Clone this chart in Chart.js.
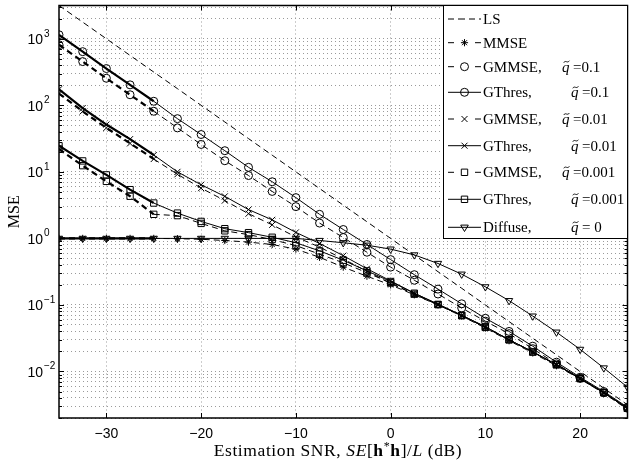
<!DOCTYPE html>
<html><head><meta charset="utf-8">
<script src="https://cdn.jsdelivr.net/npm/chart.js@4.4.0/dist/chart.umd.min.js"></script>
<style>html,body{margin:0;padding:0;background:#fff;}</style>
</head><body>
<canvas id="c" width="633" height="466"></canvas>
<script>
// ---- data ----
const snr = [-35,-32.5,-30,-27.5,-25,-22.5,-20,-17.5,-15,-12.5,-10,-7.5,-5,-2.5,0,2.5,5,7.5,10,12.5,15,17.5,20,22.5,25];
const ls = [3162,1778,1000,562,316,178,100,56.2,31.6,17.8,10,5.62,3.16,1.78,1.0,0.562,0.316,0.178,0.1,0.0562,0.0316,0.0178,0.01,0.00562,0.00316];
const mmse = [1.0,1.0,1.0,1.0,1.0,0.99,0.97,0.93,0.88,0.81,0.69,0.52,0.37,0.27,0.2,0.142,0.1,0.068,0.045,0.029,0.019,0.0122,0.0077,0.0047,0.0027];
const gmmse1 = [813,454,255,144,81.4,45.8,25.8,14.7,8.8,5.08,3.0,1.7,1.03,0.62,0.37,0.235,0.146,0.090,0.057,0.037,0.022,0.013,0.0079,0.0048,0.0028];
const gthres1 = [1148,640,357,203,115,63,36.4,20.8,11.7,7.1,4.1,2.3,1.36,0.81,0.48,0.285,0.173,0.104,0.063,0.040,0.024,0.0138,0.0082,0.0050,0.0029];
const gmmse01 = [150,81,45.8,26.8,15.6,9.2,5.7,3.7,2.35,1.6,1.05,0.74,0.49,0.32,0.21,0.145,0.101,0.069,0.046,0.030,0.0196,0.0126,0.0078,0.0048,0.0028];
const gthres01 = [174,91,51.4,31,17.9,10,6.4,4.28,2.71,1.9,1.23,0.84,0.55,0.35,0.23,0.15,0.103,0.07,0.047,0.030,0.0198,0.0127,0.0079,0.0048,0.0028];
const gmmse001 = [22.0,12.4,7.2,4.3,2.3,2.2,1.68,1.3,1.14,0.96,0.78,0.58,0.43,0.305,0.215,0.145,0.101,0.069,0.046,0.030,0.0196,0.0126,0.0078,0.0048,0.0028];
const gthres001 = [24.7,14.6,9.0,5.4,3.4,2.4,1.8,1.4,1.22,1.04,0.86,0.65,0.47,0.325,0.225,0.15,0.102,0.07,0.047,0.030,0.0197,0.0127,0.0079,0.0048,0.0028];
const diffuse = [1,1,1,1,1,1,1,1,1,1,1,0.93,0.86,0.79,0.69,0.565,0.42,0.29,0.187,0.116,0.068,0.039,0.0215,0.0113,0.0058];

const xTicks = [-30,-20,-10,0,10,20];
const yExps = [3,2,1,0,-1,-2];
const legendNames = ['LS','MMSE','GMMSE,','GThres,','GMMSE,','GThres,','GMMSE,','GThres,','Diffuse,'];
const legendQ = [null,null,'=0.1','=0.1','=0.01','=0.01','=0.001','=0.001','= 0'];

// ---- styles ----
const SERIF = '"Liberation Serif", "DejaVu Serif", serif';
const SANS = '"Liberation Sans", Arial, sans-serif';
const DASH = [6,4];

function mk(values, dashed, pstyle, rad, rot){
  return {
    data: snr.map((s,i)=>({x:s, y:values[i]})),
    borderColor:'#000', borderWidth:1, borderDash: dashed ? DASH : [],
    pointStyle: pstyle || false, pointRadius: pstyle ? rad : 0, pointRotation: rot||0,
    pointBorderColor:'#000', pointBackgroundColor:'rgba(0,0,0,0)', pointBorderWidth:1,
    pointHoverRadius: pstyle ? rad : 0,
    tension:0, fill:false,
    segment: { borderWidth: c => (pstyle && c.p0.parsed.x < -25) ? 2.2 : 1 }
  };
}
const legendStyles = [
  {dash:true, m:null},{dash:true, m:'star'},{dash:true,m:'circle'},{dash:false,m:'circle'},
  {dash:true,m:'crossRot'},{dash:false,m:'crossRot'},{dash:true,m:'rect'},{dash:false,m:'rect'},{dash:false,m:'tri'}
];

const datasets = [
  mk(ls, true, null, 0),
  mk(mmse, true, 'star', 3.6),
  mk(gmmse1, true, 'circle', 4),
  mk(gthres1, false, 'circle', 4),
  mk(gmmse01, true, 'crossRot', 4.3),
  mk(gthres01, false, 'crossRot', 4.3),
  mk(gmmse001, true, 'rect', 4.5),
  mk(gthres001, false, 'rect', 4.5),
  mk(diffuse, false, 'triangle', 4.2, 180)
];

function drawMarker(ctx, m, x, y){
  ctx.beginPath();
  if (m==='circle'){ ctx.arc(x,y,4,0,Math.PI*2); }
  else if (m==='rect'){ ctx.rect(x-3.2,y-3.2,6.4,6.4); }
  else if (m==='crossRot'){ const d=3; ctx.moveTo(x-d,y-d);ctx.lineTo(x+d,y+d);ctx.moveTo(x+d,y-d);ctx.lineTo(x-d,y+d); }
  else if (m==='star'){ const d=3.6, e=2.5; ctx.moveTo(x-d,y);ctx.lineTo(x+d,y);ctx.moveTo(x,y-d);ctx.lineTo(x,y+d);
    ctx.moveTo(x-e,y-e);ctx.lineTo(x+e,y+e);ctx.moveTo(x+e,y-e);ctx.lineTo(x-e,y+e); }
  else if (m==='tri'){ ctx.moveTo(x-3.8,y-2.2);ctx.lineTo(x+3.8,y-2.2);ctx.lineTo(x,y+4.2);ctx.closePath(); }
  ctx.stroke();
}

function drawQTilde(ctx, qx, ly, rest){
  ctx.font='italic 15px '+SERIF; ctx.textAlign='left'; ctx.textBaseline='alphabetic';
  const base = ly+5;
  ctx.fillText('q', qx, base);
  // tilde accent over the q
  const tx = qx+1.8, ty = ly-5;
  ctx.save(); ctx.lineWidth=0.9; ctx.setLineDash([]);
  ctx.beginPath();
  ctx.moveTo(tx, ty+1);
  ctx.bezierCurveTo(tx+1.6, ty-2.2, tx+3.6, ty+2.2, tx+5.6, ty-1);
  ctx.stroke(); ctx.restore();
  ctx.font='15px '+SERIF;
  ctx.fillText(rest, qx+11, base);
}

const deco = {
  id:'deco',
  afterDatasetsDraw(chart){
    const {ctx, chartArea:a, scales:{x, y}} = chart;
    ctx.save();
    ctx.strokeStyle='#000'; ctx.lineWidth=1; ctx.setLineDash([]);
    // inside tick marks
    ctx.beginPath();
    xTicks.forEach(v=>{
      const px = Math.round(x.getPixelForValue(v))+0.5;
      ctx.moveTo(px,a.bottom); ctx.lineTo(px,a.bottom-5);
      ctx.moveTo(px,a.top); ctx.lineTo(px,a.top+5);
    });
    for (let e=-3;e<=3;e++){
      for (let k=1;k<=9;k++){
        const v=k*Math.pow(10,e);
        if (v<y.min*0.999 || v>y.max*1.001) continue;
        const py = Math.round(y.getPixelForValue(v))+0.5;
        const len = k===1?5:3;
        ctx.moveTo(a.left,py); ctx.lineTo(a.left+len,py);
        ctx.moveTo(a.right,py); ctx.lineTo(a.right-len,py);
      }
    }
    ctx.stroke();
    // border
    ctx.lineWidth=1.5;
    ctx.strokeRect(a.left, a.top, a.right-a.left, a.bottom-a.top);

    // legend
    const bx0=443.5, by0=a.top, bx1=a.right, by1=238.5;
    ctx.fillStyle='#fff';
    ctx.fillRect(bx0,by0,bx1-bx0,by1-by0);
    ctx.lineWidth=1;
    ctx.strokeRect(bx0,by0,bx1-bx0,by1-by0);
    const rowsY=[19,42.7,66.7,92.3,119,145.7,172.3,199.3,227.3];
    const lx0=448, lx1=481, lxm=464.5;
    ctx.fillStyle='#000';
    legendNames.forEach((name,i)=>{
      const st=legendStyles[i], ly=rowsY[i];
      ctx.lineWidth=1;
      ctx.beginPath();
      if (!st.dash){ ctx.moveTo(lx0,ly); ctx.lineTo(lx1,ly); }
      else if (!st.m){ ctx.moveTo(lx0,ly);ctx.lineTo(lx0+6,ly);ctx.moveTo(lx0+10,ly);ctx.lineTo(lx0+17,ly);ctx.moveTo(lx0+21,ly);ctx.lineTo(lx0+27,ly); ctx.moveTo(lx0+31,ly);ctx.lineTo(lx1,ly); }
      else { ctx.moveTo(lx0,ly);ctx.lineTo(lx0+6,ly);ctx.moveTo(lx1-6,ly);ctx.lineTo(lx1,ly); }
      ctx.stroke();
      if (st.m) drawMarker(ctx, st.m, lxm, ly);
      ctx.font='15px '+SERIF; ctx.textAlign='left'; ctx.textBaseline='alphabetic';
      ctx.fillText(name, 483, ly+5);
      if (legendQ[i]){
        const qx = name==='GMMSE,' ? 562 : 571;
        drawQTilde(ctx, qx, ly, legendQ[i]);
      }
    });

    // y tick labels with superscripts
    ctx.fillStyle='#000';
    yExps.forEach(e=>{
      const py = y.getPixelForValue(Math.pow(10,e));
      ctx.font='14px '+SANS; ctx.textAlign='right'; ctx.textBaseline='middle';
      ctx.fillText('10', 43, py+1.5);
      ctx.font='10px '+SANS; ctx.textAlign='left'; ctx.textBaseline='alphabetic';
      ctx.fillText(e<0 ? '\u2212'+(-e) : String(e), 44, py-2);
    });

    // y title
    ctx.save();
    ctx.translate(15, (a.top+a.bottom)/2);
    ctx.rotate(-Math.PI/2);
    ctx.font='16px '+SERIF; ctx.textAlign='center'; ctx.textBaseline='middle';
    ctx.fillText('MSE', 0, 0);
    ctx.restore();

    // x title with mixed fonts
    const FS = 17.5;
    const parts = [
      ['Estimation SNR, ', FS+'px '+SERIF, 0],
      ['SE', 'italic '+FS+'px '+SERIF, 0],
      ['[', FS+'px '+SERIF, 0],
      ['h', 'bold '+FS+'px '+SERIF, 0],
      ['*', '12px '+SERIF, -6],
      ['h', 'bold '+FS+'px '+SERIF, 0],
      [']/', FS+'px '+SERIF, 0],
      ['L', 'italic '+FS+'px '+SERIF, 0],
      [' (dB)', FS+'px '+SERIF, 0]
    ];
    ctx.letterSpacing = '0.6px';
    let total=0;
    parts.forEach(p=>{ ctx.font=p[1]; total+=ctx.measureText(p[0]).width; });
    let tx = 338 - total/2;
    const ty = 456;
    ctx.textAlign='left'; ctx.textBaseline='alphabetic';
    parts.forEach(p=>{ ctx.font=p[1]; ctx.fillText(p[0], tx, ty+p[2]); tx+=ctx.measureText(p[0]).width; });
    ctx.letterSpacing = '0px';
    ctx.restore();
  }
};

new Chart(document.getElementById('c'), {
  type:'line',
  data:{ datasets },
  options:{
    responsive:false, animation:false, devicePixelRatio:1,
    layout:{ padding:{ top:3, right:1, left:0, bottom:0 } },
    plugins:{ legend:{display:false}, tooltip:{enabled:false} },
    scales:{
      x:{
        type:'linear', min:-35, max:25,
        afterBuildTicks: s => { s.ticks = xTicks.map(v=>({value:v})); },
        afterFit: s => { s.height = 48; },
        grid:{ color:'#9a9a9a', lineWidth:1, drawTicks:false },
        border:{ display:false, dash:[1,3] },
        ticks:{ color:'#000', padding:8, font:{ family:SANS, size:14 },
          callback: v => v<0 ? '\u2212'+Math.abs(v) : String(v) }
      },
      y:{
        type:'logarithmic', min:0.002, max:3162,
        afterBuildTicks: s => {
          const t=[];
          for (let e=-3;e<=3;e++) for (let k=1;k<=9;k++){ const v=k*Math.pow(10,e); if (v>=0.002*0.999 && v<=3162) t.push({value:v}); }
          s.ticks=t;
        },
        afterFit: s => { s.width = 59; },
        grid:{ color:'#9a9a9a', lineWidth:1, drawTicks:false },
        border:{ display:false, dash:[1,3] },
        ticks:{ display:false }
      }
    }
  },
  plugins:[deco]
});
</script>
</body></html>
